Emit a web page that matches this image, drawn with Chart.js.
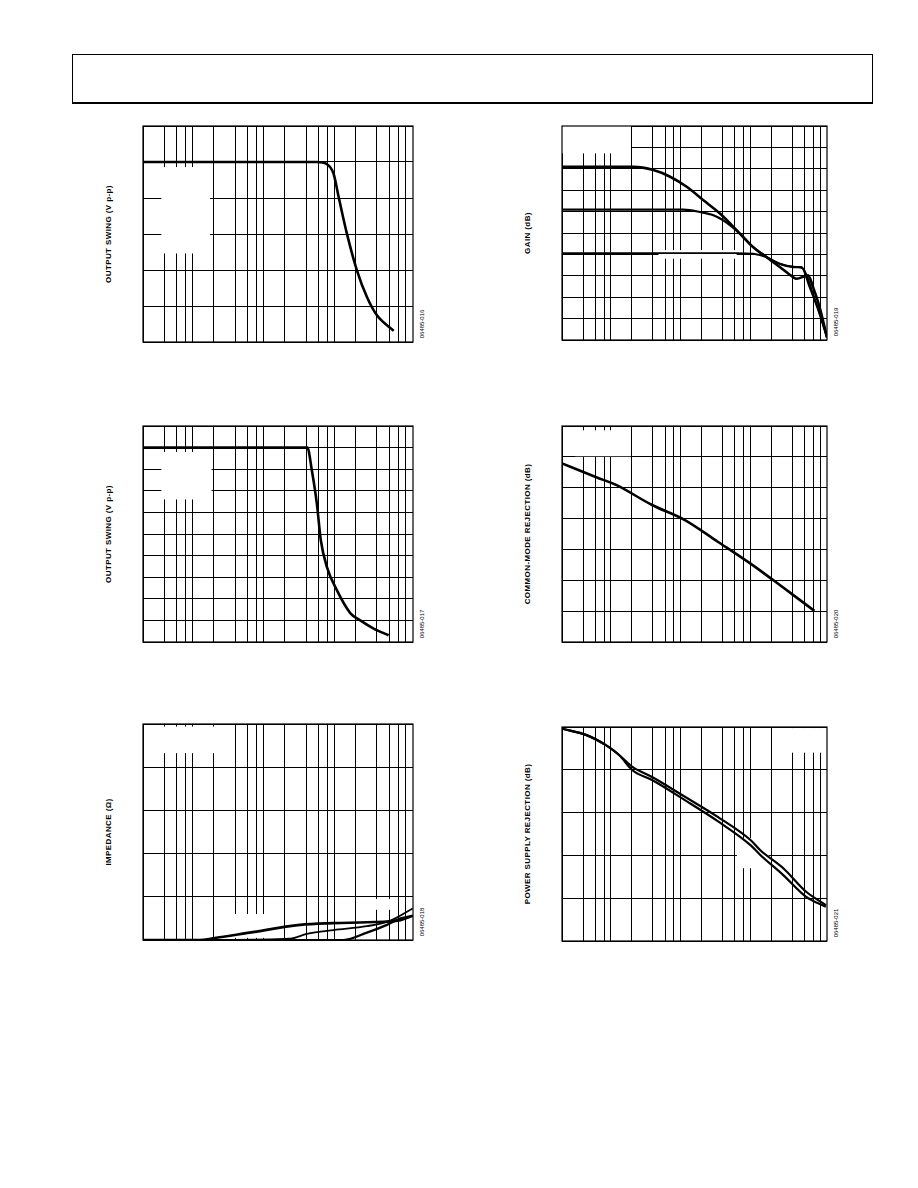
<!DOCTYPE html>
<html><head><meta charset="utf-8">
<script src="https://cdn.jsdelivr.net/npm/chart.js@4.4.0/dist/chart.umd.min.js"></script>
<style>
body{margin:0;background:#fff;width:918px;height:1188px;position:relative;overflow:hidden;font-family:"Liberation Sans",Arial,sans-serif}
#hdr{position:absolute;left:72px;top:54px;width:799px;height:47px;border:1px solid #000;border-bottom:2px solid #000}
.cv{position:absolute}
.yl{position:absolute;font-size:8px;font-weight:bold;white-space:nowrap;transform:translate(-50%,-50%) rotate(-90deg);letter-spacing:0.4px}
.id{position:absolute;font-size:6px;white-space:nowrap;transform:translate(-50%,-50%) rotate(-90deg)}
</style></head><body>
<div id="hdr"></div>
<script>
// ---- data ----
const gridMultipliers=[1,2,3,4,5];

const c1Freq=[1,284,393,488,575,754,1044,1446,2004,3450];
const c1Val=[5.0,5.0,4.94,4.68,4.04,3.01,1.99,1.25,0.74,0.31];

const c2Freq=[1,209,241,284,323,393,544,841,1164,1799,2930];
const c2Val=[9.0,9.0,7.96,6.41,4.71,3.48,2.40,1.34,1.00,0.62,0.31];

const c3FreqA=[1,6.3,9.8,32,164,488,1446,4300,6400];
const c3ValA=[0,0,0.04,0.17,0.35,0.39,0.41,0.46,0.56];
const c3FreqB=[8.8,119,205,488,1446,3100,6400];
const c3ValB=[0,0.03,0.14,0.23,0.32,0.45,0.73];
const c3FreqC=[1,676,1446,2770,4300,6400];
const c3ValC=[0,0,0.17,0.35,0.50,0.56];

const c4FreqA=[1,10.6,20.4,35.3,61.1,106,183,353,547,848,1315,2040,2275,3340,3940,4900,6240];
const c4ValA=[8.09,8.09,7.94,7.63,7.16,6.53,5.91,4.97,4.34,3.875,3.41,2.94,2.86,3.02,2.47,1.53,0.125];
const c4FreqB=[1,54.7,94.7,147,204,353,547,848,1315,2040,2683,3530,4900,6240];
const c4ValB=[6.09,6.09,5.98,5.83,5.59,4.97,4.34,3.875,3.56,3.41,3.41,2.47,1.22,0.125];
const c4FreqC=[1,24,316,547,848,1315,2275,2834,3940,6240];
const c4ValC=[4.06,4.06,4.06,4.03,3.875,3.56,3.41,3.33,2.16,0.125];

const c5Freq=[1,3.1,5.95,19.5,57.6,170,501,1067,4120];
const c5Val=[5.79,5.34,5.09,4.44,3.95,3.25,2.54,2.00,1.01];

const c6FreqA=[1,2.25,4.3,6.63,10.2,19.5,57.6,170,501,692,1476,3145,6010];
const c6ValA=[4.96,4.81,4.57,4.34,4.07,3.83,3.37,2.90,2.36,2.12,1.70,1.15,0.84];
const c6FreqB=[1,2.25,4.3,6.63,10.2,19.5,57.6,170,501,692,1476,3145,6010];
const c6ValB=[4.96,4.81,4.57,4.34,3.99,3.76,3.29,2.80,2.24,2.01,1.54,1.03,0.80];

const yLabels=["OUTPUT SWING (V p-p)","OUTPUT SWING (V p-p)","IMPEDANCE (Ω)","GAIN (dB)","COMMON-MODE REJECTION (dB)","POWER SUPPLY REJECTION (dB)"];
const ids=["06485-016","06485-017","06485-018","06485-019","06485-020","06485-021"];

// ---- helpers ----
function logTicks(max){const t=[];for(let d=1;d<=max;d*=10){gridMultipliers.forEach(m=>{const v=m*d;if(v<=max)t.push(v);});}return t;}
const boxPlugin={id:'box',
 beforeDatasetsDraw(ch,a,o){const c=ch.ctx,ar=ch.chartArea;c.save();c.fillStyle='#fff';
  (o.masks||[]).forEach(m=>{c.fillRect(ar.left+m[0]*ar.width,ar.top+m[1]*ar.height,(m[2]-m[0])*ar.width,(m[3]-m[1])*ar.height);});
  c.strokeStyle='#000';c.lineWidth=1.2;c.strokeRect(ar.left,ar.top,ar.width,ar.height);c.restore();}};

function make(box,xmax,ymax,series,masks,label,id,labelX){
 const cv=document.createElement('canvas');cv.className='cv';
 const pad=2;
 cv.style.left=(box[0]-pad)+'px';cv.style.top=(box[1]-pad)+'px';
 cv.width=box[2]-box[0]+2*pad;cv.height=box[3]-box[1]+2*pad;
 cv.style.width=cv.width+'px';cv.style.height=cv.height+'px';
 document.body.appendChild(cv);
 new Chart(cv,{type:'line',
  data:{datasets:series.map(s=>({data:s[0].map((f,i)=>({x:f,y:s[1][i]})),borderColor:'#000',borderWidth:s[2]||2.2,pointRadius:0,cubicInterpolationMode:'monotone',fill:false}))},
  options:{responsive:false,animation:false,devicePixelRatio:1,
   layout:{padding:pad},
   plugins:{legend:{display:false},tooltip:{enabled:false},box:{masks}},
   scales:{
    x:{type:'logarithmic',min:1,max:xmax,afterBuildTicks:s=>{s.ticks=logTicks(xmax).map(v=>({value:v}));},
       ticks:{display:false},grid:{color:'#000',lineWidth:1,drawTicks:false},border:{display:false}},
    y:{type:'linear',min:0,max:ymax,ticks:{display:false,stepSize:1},grid:{color:'#000',lineWidth:1,drawTicks:false},border:{display:false}}
   }},plugins:[boxPlugin]});
 const l=document.createElement('div');l.className='yl';l.textContent=label;
 l.style.left=labelX+'px';l.style.top=((box[1]+box[3])/2)+'px';document.body.appendChild(l);
 const d=document.createElement('div');d.className='id';d.textContent=id;
 d.style.left=(box[2]+9)+'px';d.style.top=(box[3]-18)+'px';document.body.appendChild(d);
}

make([143,126,413,342],6460,6,[[c1Freq,c1Val,2.6]],[[0.068,0.19,0.248,0.59]],yLabels[0],ids[0],108);
make([143,426,413,642],6460,10,[[c2Freq,c2Val,2.6]],[[0.068,0.12,0.254,0.34]],yLabels[1],ids[1],108);
make([143,724,413,940],6460,5,[[c3FreqA,c3ValA,2.6],[c3FreqB,c3ValB,1.8],[c3FreqC,c3ValC,2.2]],[[0.01,0.012,0.31,0.135],[0.31,0.88,0.49,0.99],[0.81,0.81,0.93,0.86]],yLabels[2],ids[2],108);
make([562,126,827,340],6240,10,[[c4FreqA,c4ValA,2.6],[c4FreqB,c4ValB,2.2],[c4FreqC,c4ValC,1.8]],[[0,0,0.26,0.128],[0.364,0.58,0.659,0.62]],yLabels[3],ids[3],527);
make([562,426,827,642],6240,7,[[c5Freq,c5Val,2.6]],[[0.05,0.02,0.26,0.14]],yLabels[4],ids[4],527);
make([562,727,827,941],6240,5,[[c6FreqA,c6ValA,2.2],[c6FreqB,c6ValB,2.2]],[[0.86,0.005,1,0.12],[0.66,0.52,0.78,0.66]],yLabels[5],ids[5],527);
</script>
</body></html>
